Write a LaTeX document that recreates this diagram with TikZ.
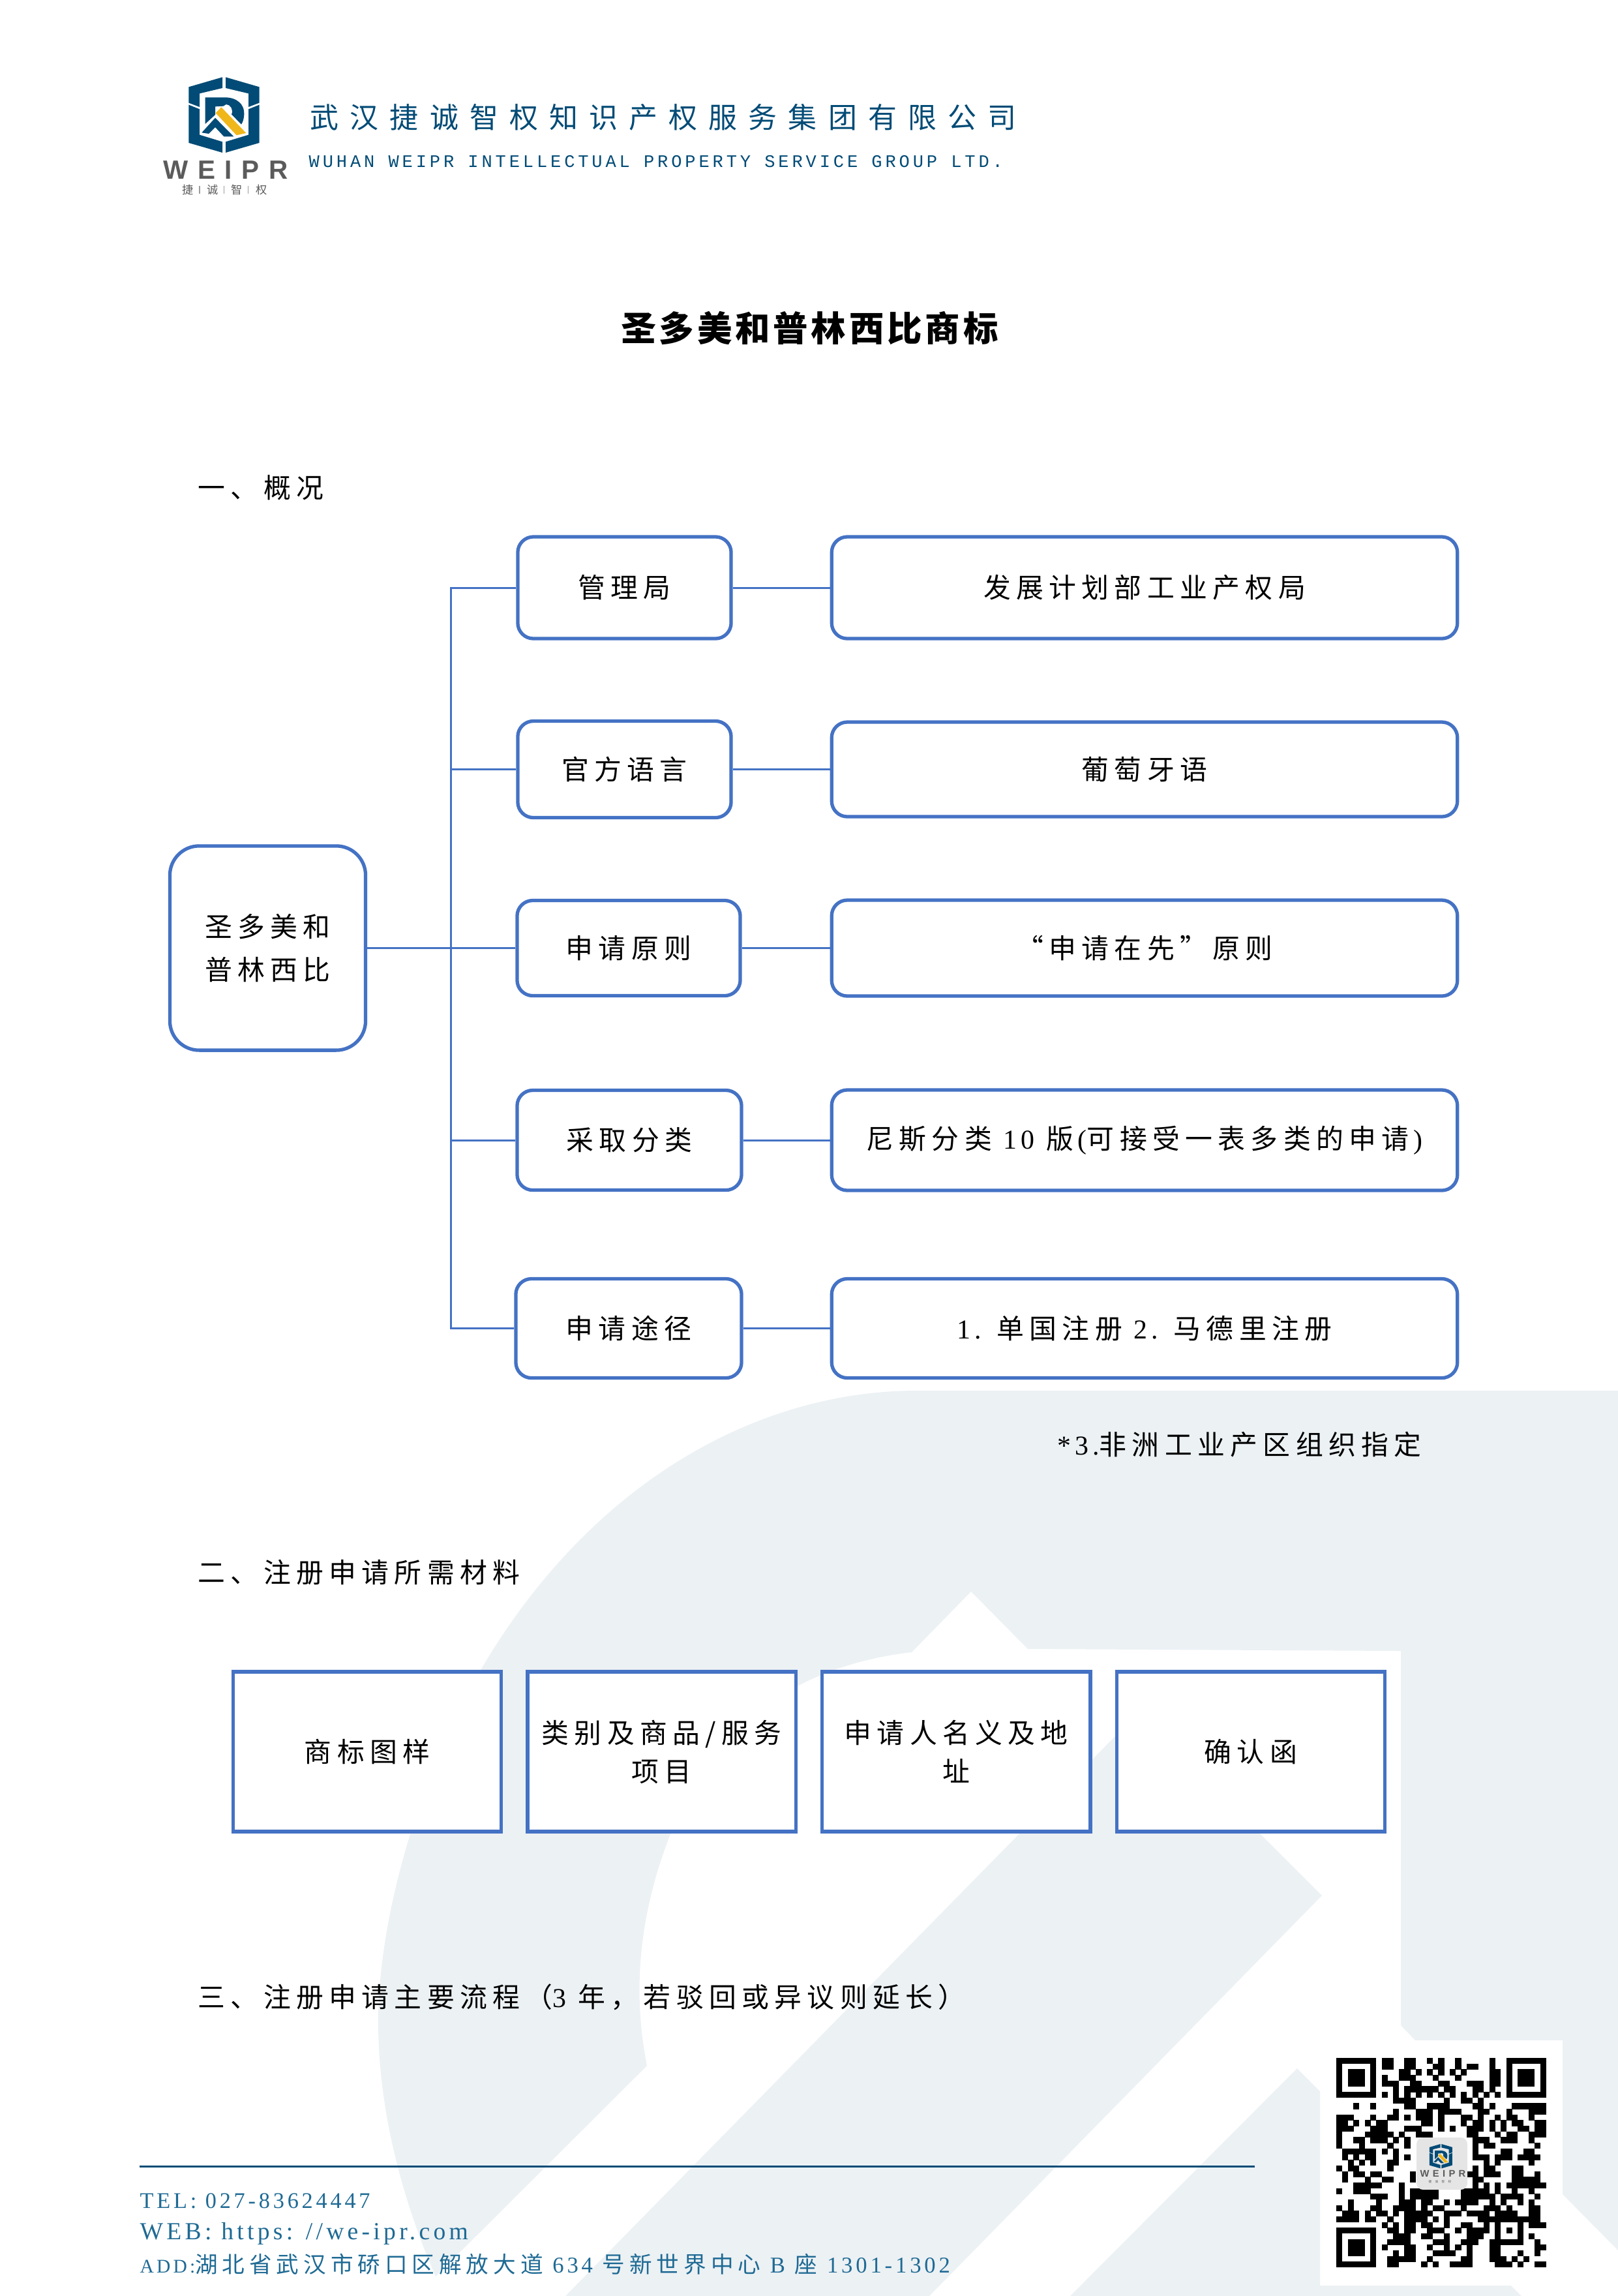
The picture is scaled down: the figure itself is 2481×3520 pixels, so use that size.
\documentclass[tikz,border=0pt]{standalone}
\usepackage{fontspec}
\usepackage{tikz}
\usetikzlibrary{matrix}
\setmainfont[LetterSpace=20]{Noto Sans CJK SC}
\newfontfamily\latinf[LetterSpace=14]{Liberation Serif}
\newfontfamily\titlef[LetterSpace=9]{Noto Sans CJK SC}
\newfontfamily\headcnf[LetterSpace=39]{Noto Sans CJK SC}
\newfontfamily\headenf[LetterSpace=18]{Liberation Mono}
\newfontfamily\logoenf[LetterSpace=36]{Liberation Sans}
\newfontfamily\logocnf[LetterSpace=118]{Noto Sans CJK SC}
\definecolor{boxblue}{HTML}{4472C4}
\definecolor{washblue}{HTML}{ECF1F4}
\definecolor{weiprblue}{HTML}{024B76}
\definecolor{footblue}{HTML}{1F6A94}
\definecolor{weipryellow}{HTML}{F0B71B}
\definecolor{weiprgray}{HTML}{5B5B5B}
% shield of the logo, drawn in units of the crop
\newcommand{\weiprmark}{
	\fill[weiprblue] (333,25) -- (178,70) -- (178,143) -- (228,162) -- (228,100) -- (333,75) -- cycle;
	\fill[weiprblue] (348,25) -- (503,70) -- (503,143) -- (453,162) -- (453,100) -- (348,75) -- cycle;
	\fill[weiprblue] (178,152) -- (228,172) -- (228,290) -- (333,322) -- (333,372) -- (178,327) -- cycle;
	\fill[weiprblue] (503,152) -- (453,172) -- (453,290) -- (348,322) -- (348,372) -- (503,327) -- cycle;
	\fill[weiprblue] (254,240) -- (254,118) -- (345,118) .. controls (400,118) and (433,150) .. (433,190) .. controls (433,215) and (428,230) .. (420,242) -- (375,196) .. controls (385,175) and (370,150) .. (350,150) -- (338,158) -- (300,160) -- (300,198) -- cycle;
	\fill[weiprblue] (238,280) -- (300,212) -- (385,298) -- (340,298) -- (300,255) -- (270,285) -- cycle;
	\fill[weipryellow] (328,163) -- (302,190) -- (398,292) -- (442,282) -- cycle;
}
% one row of the code, ended by a dot
\newcommand{\qrscan}[1]{\ifx#1.\else\if#11\fill (\qrx,\j) rectangle ++(1.05,1.05);\fi\pgfmathtruncatemacro{\qrx}{\qrx+1}\expandafter\qrscan\fi}
\begin{document}
\begin{tikzpicture}[x=0.01cm, y=-0.01cm, every node/.style={inner sep=0pt, font=\fontsize{11.9}{16.8}\selectfont}]
	\tikzstyle{block} = [rectangle, draw=boxblue, line width=1.5pt, fill=white, align=center, rounded corners=0.24cm]
	\tikzstyle{leftblock} = [block]
	\tikzstyle{rightblock} = [block, minimum width=9.59cm]
	\tikzstyle{square} = [rectangle, draw=boxblue, line width=1.5pt, fill=white, align=center, minimum width=4.11cm, minimum height=2.45cm]
	\tikzstyle{line} = [draw=boxblue, line width=0.85pt]
	\tikzstyle{heading} = [anchor=west]
	\tikzstyle{footer} = [anchor=west, text=footblue, font=\fontsize{9.85}{12}\selectfont]
	\useasboundingbox (0,0) rectangle (2481,3520);
	% watermark
	\fill[washblue] (2481,2132) -- (1406,2132) .. controls (1130,2132) and (850,2310) .. (690,2650) .. controls (610,2830) and (580,2990) .. (580,3100) .. controls (580,3240) and (620,3380) .. (668,3490) -- (992,3167) .. controls (965,3030) and (985,2890) .. (1060,2740) .. controls (1130,2620) and (1250,2550) .. (1398,2533) -- (1489,2440) -- (1576,2528) -- (2148,2531) -- (2148,3105) -- (2170,3128) -- (2396,3128) -- (2396,3364) -- (2481,3450) -- cycle;
	\fill[washblue] (1746,2625) -- (2027,2906) -- (1425,3520) -- (867,3520) -- cycle;
	\fill[washblue] (1989,3171) -- (2024,3206) -- (2024,3504) -- (2317,3504) -- (2333,3520) -- (1641,3520) -- cycle;
	% letterhead
	\begin{scope}[shift={(230,110)}, scale=1/3]
		\weiprmark
		\node [anchor=west, text=weiprgray, font=\logoenf\bfseries\fontsize{11.5}{12}\selectfont] (logoen) at (60,451) {WEIPR};
		\node [anchor=west, text=weiprgray, font=\logocnf\fontsize{4.9}{6}\selectfont] (logocn) at (147,544) {捷诚智权};
		\foreach \tick in {228,340,452}
			\draw[weiprgray!60, line width=0.3pt] (\tick,525) -- (\tick,560);
	\end{scope}
	\node [anchor=west, text=weiprblue, font=\headcnf\fontsize{12.5}{14}\selectfont] (headcn) at (475,180) {武汉捷诚智权知识产权服务集团有限公司};
	\node [anchor=west, text=weiprblue, font=\headenf\fontsize{7.7}{9}\selectfont] (headen) at (473,248) {WUHAN WEIPR INTELLECTUAL PROPERTY SERVICE GROUP LTD.};
	\node [anchor=west, font=\titlef\bfseries\fontsize{15.2}{18}\selectfont] (title) at (952,503) {圣多美和普林西比商标};
	% overview
	\node [heading] (sec1) at (303,748) {一、概况};
	\node [block, minimum width=3.0cm, minimum height=3.13cm, rounded corners=0.45cm, font=\fontsize{11.9}{18.6}\selectfont] (place) at (410.5,1453.5) {圣多美和\\普林西比};
	% column 1
	\node [leftblock, minimum width=3.27cm, minimum height=1.56cm] (office) at (957.5,901) {管理局};
	\node [leftblock, minimum width=3.27cm, minimum height=1.48cm] (language) at (957.5,1179.5) {官方语言};
	\node [leftblock, minimum width=3.42cm, minimum height=1.46cm] (principle) at (964,1453.5) {申请原则};
	\node [leftblock, minimum width=3.44cm, minimum height=1.53cm] (classes) at (965,1748) {采取分类};
	\node [leftblock, minimum width=3.46cm, minimum height=1.52cm] (route) at (964,2036.5) {申请途径};
	% column 2
	\node [rightblock, minimum height=1.56cm] (officeval) at (1755,901) {发展计划部工业产权局};
	\node [rightblock, minimum height=1.45cm] (languageval) at (1755,1179.5) {葡萄牙语};
	\node [rightblock, minimum height=1.47cm] (principleval) at (1755,1453.5) {“申请在先”原则};
	\node [rightblock, minimum height=1.54cm] (classesval) at (1755,1748) {尼斯分类 {\latinf 10} 版{\latinf\,(}可接受一表多类的申请{\latinf\,)}};
	\node [rightblock, minimum height=1.52cm] (routeval) at (1755,2036.5) {{\latinf 1.} 单国注册 {\latinf 2.} 马德里注册};
	\node [anchor=west] (routenote) at (1621,2215) {{\latinf *3.}非洲工业产区组织指定};
	% trunk
	\coordinate (trunk) at (691,1453.5);
	\path [line] (place) -- (principle);
	\path [line] (office.west) -| (trunk);
	\path [line] (language.west) -| (trunk);
	\path [line] (classes.west) -| (trunk);
	\path [line] (route.west) -| (trunk);
	\path [line] (office) -- (officeval);
	\path [line] (language) -- (languageval);
	\path [line] (principle) -- (principleval);
	\path [line] (classes) -- (classesval);
	\path [line] (route) -- (routeval);
	% materials
	\node [heading] (sec2) at (303,2411) {二、注册申请所需材料};
	\matrix [column sep=3.5mm] at (1240.5,2685.5)
	{
	\node [square] (sample) {商标图样}; &
	\node [square] (goods) {类别及商品/服务\\项目}; &
	\node [square] (applicant) {申请人名义及地\\址}; &
	\node [square] (letter) {确认函}; \\
	};
	% procedure
	\node [heading] (sec3) at (303,3062) {三、注册申请主要流程（{\latinf 3} 年，若驳回或异议则延长）};
	% footer
	\coordinate (rulestart) at (214,3321);
	\coordinate (ruleend) at (1924,3321);
	\draw[weiprblue, line width=0.85pt] (rulestart) -- (ruleend);
	\node [footer, font=\latinf\fontsize{9.75}{12}\selectfont] (tel) at (214,3374) {TEL: 027-83624447};
	\node [footer, font=\latinf\fontsize{10.7}{12}\selectfont] (web) at (214,3424) {WEB: https: //we-ipr.com};
	\node [footer] (addr) at (214,3471) {{\latinf\fontsize{8.4}{12}\selectfont ADD:}湖北省武汉市硚口区解放大道 {\latinf 634} 号新世界中心 {\latinf B} 座 {\latinf 1301-1302}};
	% code
	\begin{scope}[shift={(2049.3,3155)}, x=0.0867cm, y=-0.0867cm]
		\foreach \rowbits [count=\j from 0] in {
			1111111011001100101001000001001111111,
			1000001011001100011001011001001000001,
			1011101000011010101010100001101011101,
			1011101010011100010001000001101011101,
			1011101011100110001100011101101011101,
			1000001000101111110110001101001000001,
			1111111010101010101010101010101111111,
			0000000000111100000100110100000000000,
			0001001000001100111100001101000111111,
			0000000000100011101111000110001000111,
			1110001001101011101000110100101100100,
			1101010110000001101000101101010110011,
			1110001110001110001010011101010011011,
			1000011111010011100000011000101100111,
			1001101110101000000000001110011100100,
			1000100001001000000000001011000000010,
			0111111010100000000000001000011001100,
			0101011000101000000000001110111011110,
			0010101001100000000000000010100000100,
			1011000001000000000000001011000110000,
			0101101100000100000000011011100110010,
			0100010011000100000000001100000111110,
			0001111100010000000000001010101111111,
			1001110000010111110000111110100100100,
			0000001110010111110000111111011110010,
			0010000100011101100101111001010010100,
			1010001100111101011000100011101000110,
			0111010110101111100111011110111100110,
			1111011001001111010100000111111111110,
			0000000010101101100100110010100010111,
			1111111001101100111001011110101010000,
			1000001000111001100100011100100010100,
			1011101001111000011100111001111110010,
			1011101010001100100101010001100000011,
			1011101000101100011110010001100010010,
			1000001001111100100000110001110101000,
			1111111001100001010011110000111010011}
		{
			\def\qrx{0}
			\expandafter\qrscan\rowbits.
		}
	\end{scope}
	\fill[gray!20, rounded corners=0.1cm] (2172,3277) rectangle (2250,3357);
	\begin{scope}[shift={(2172.8,3284.3)}, scale=0.1077]
		\weiprmark
	\end{scope}
	\node [anchor=west, text=weiprgray, font=\logoenf\bfseries\fontsize{4.2}{5}\selectfont] (qrlogoen) at (2177,3332) {WEIPR};
	\node [anchor=west, text=weiprgray, font=\logocnf\fontsize{1.3}{2}\selectfont] (qrlogocn) at (2190,3345) {捷诚智权};
\end{tikzpicture}
\end{document}
